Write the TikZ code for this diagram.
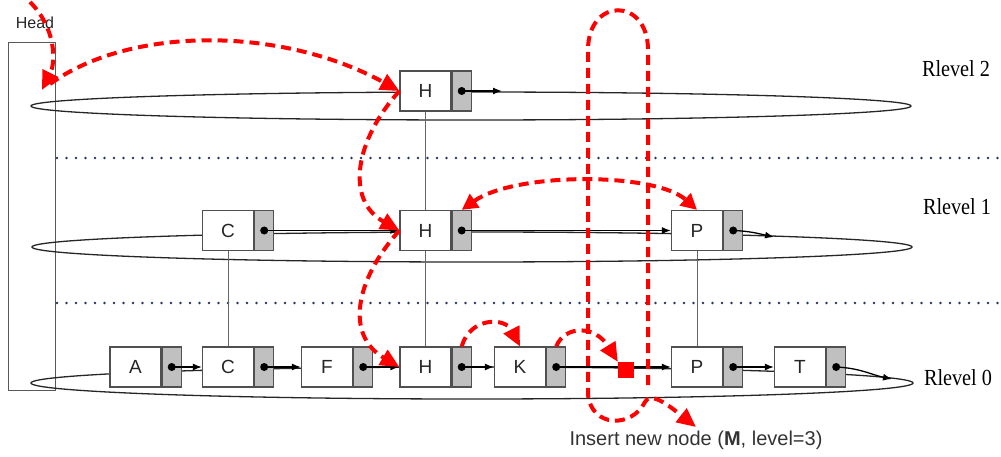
\documentclass[tikz,border=0pt]{standalone}
\usepackage{fontspec}
\usepackage{graphicx}
\setmainfont{Liberation Sans}
\newfontfamily\rlfont{Liberation Serif}
\usetikzlibrary{arrows.meta}
\definecolor{boxgray}{RGB}{192,192,192}
\definecolor{edgegray}{RGB}{80,80,80}
\definecolor{dotblue}{RGB}{35,55,95}
\definecolor{rd}{RGB}{255,0,0}
\begin{document}
\begin{tikzpicture}[x=1pt,y=-1pt,
  tbox/.style={draw=edgegray, line width=1.2pt, fill=white, minimum width=51pt, minimum height=40pt, inner sep=0pt, font=\fontsize{19}{19}\selectfont, text=black!85},
  gbox/.style={draw=edgegray, line width=1.2pt, fill=boxgray, minimum width=19pt, minimum height=40pt, inner sep=0pt, anchor=west},
  dotn/.style={circle, fill=black, minimum size=8pt, inner sep=0pt},
  lnk/.style={-{Latex[length=9pt,width=7pt]}, line width=1.3pt, black},
  ring/.style={line width=1.3pt, black!85},
  vline/.style={line width=1pt, black!60},
  rdash/.style={rd, line width=4pt, dash pattern=on 10pt off 6pt},
  rtip/.style={-{Triangle[length=19pt,width=17pt]}},
  rtwo/.style={{Triangle[length=16pt,width=16pt]}-{Triangle[length=16pt,width=16pt]}},
  sepline/.style={dotblue, line width=2.6pt, line cap=round, dash pattern=on 0pt off 9.5pt},
  lvl/.style={font=\rlfont\fontsize{23}{23}\selectfont},
]
\useasboundingbox (0,0) rectangle (1001,457);

% head box
\node[draw=black!65, line width=0.9pt, minimum width=47pt, minimum height=348pt, inner sep=0pt] (headbox) at (31.5,216) {};
\node[font=\fontsize{16}{16}\selectfont, text=black!85] (headlbl) at (35,23) {Head};

% level rings
\draw[ring] (471,106) ellipse [x radius=440pt, y radius=14pt];
\draw[ring] (472,247) ellipse [x radius=440pt, y radius=15pt];
\draw[ring] (472,383) ellipse [x radius=441pt, y radius=16pt];

% separators
\coordinate (s1a) at (57,158); \coordinate (s1b) at (1001,158);
\coordinate (s2a) at (57,303); \coordinate (s2b) at (1001,303);
\draw[sepline] (s1a) -- (s1b);
\draw[sepline] (s2a) -- (s2b);

% level 2
\node[tbox] (h2) at (425.5,91) {H};
\node[gbox] (h2g) at (h2.east) {};
\node[dotn] (h2d) at (h2g.center) {};

% level 1
\node[tbox] (c1) at (228,230.5) {C};
\node[gbox] (c1g) at (c1.east) {};
\node[dotn] (c1d) at (c1g.center) {};
\node[tbox] (h1) at (425.5,230.5) {H};
\node[gbox] (h1g) at (h1.east) {};
\node[dotn] (h1d) at (h1g.center) {};
\node[tbox] (p1) at (697,230.5) {P};
\node[gbox] (p1g) at (p1.east) {};
\node[dotn] (p1d) at (p1g.center) {};

% level 0
\node[tbox] (a0) at (135.5,367) {A};
\node[gbox] (a0g) at (a0.east) {};
\node[dotn] (a0d) at (a0g.center) {};
\node[tbox] (c0) at (228,367) {C};
\node[gbox] (c0g) at (c0.east) {};
\node[dotn] (c0d) at (c0g.center) {};
\node[tbox] (f0) at (327,367) {F};
\node[gbox] (f0g) at (f0.east) {};
\node[dotn] (f0d) at (f0g.center) {};
\node[tbox] (h0) at (425.5,367) {H};
\node[gbox] (h0g) at (h0.east) {};
\node[dotn] (h0d) at (h0g.center) {};
\node[tbox] (k0) at (520,367) {K};
\node[gbox] (k0g) at (k0.east) {};
\node[dotn] (k0d) at (k0g.center) {};
\node[tbox] (p0) at (697,367) {P};
\node[gbox] (p0g) at (p0.east) {};
\node[dotn] (p0d) at (p0g.center) {};
\node[tbox] (t0) at (800,367) {T};
\node[gbox] (t0g) at (t0.east) {};
\node[dotn] (t0d) at (t0g.center) {};

% vertical links
\draw[vline] (h2.south) -- (h1.north);
\draw[vline] (h1.south) -- (h0.north);
\draw[vline] (c1.south) -- (c0.north);
\draw[vline] (p1.south) -- (p0.north);

% forward pointers
\coordinate (h2end) at (502,91);
\coordinate (p1end) at (774,237);
\coordinate (t0end) at (892,379);
\draw[lnk] (h2d.center) -- (h2end);
\draw[lnk] (c1d.center) -- (h1.west);
\draw[lnk] (h1d.center) -- (p1.west);
\draw[lnk] (p1d.center) .. controls (750,231) and (760,234) .. (p1end);
\draw[lnk] (a0d.center) -- (c0.west);
\draw[lnk] (c0d.center) -- (f0.west);
\draw[lnk] (f0d.center) -- (h0.west);
\draw[lnk] (h0d.center) -- (k0.west);
\draw[lnk] (k0d.center) -- (p0.west);
\draw[lnk] (p0d.center) -- (t0.west);
\draw[lnk] (t0d.center) .. controls (860,368) and (872,375) .. (t0end);

% new node marker
\node[fill=rd, minimum size=16pt, inner sep=0pt] (sq) at (626,370) {};

% red search path
\coordinate (hs) at (30,2);
\coordinate (ha) at (42,90);
\coordinate (hb) at (50,84);
\draw[rdash, rtip] (hs) .. controls (56,28) and (56,62) .. (ha);
\draw[rdash, rtip] (hb) .. controls (130,26) and (281,26) .. (h2.west);
\draw[rdash, rtip] (h2.west) .. controls (355,140) and (345,200) .. (h1.west);
\draw[rdash, rtip] (h1.west) .. controls (355,280) and (345,335) .. (h0.west);
\draw[rdash, rtwo] (h1g.north) .. controls (515,172) and (655,172) .. (p1.north);
\draw[rdash, rtip] (h0g.north) .. controls (470,317) and (505,317) .. (k0.north);
\draw[rdash, rtip] (k0g.north) .. controls (565,325) and (595,325) .. (sq.north west);

% insertion loop
\coordinate (lp) at (648,385);
\coordinate (lq) at (696,427);
\draw[rdash, rtip] (lp) -- (648,50) .. controls (648,-3) and (588,-3) .. (588,50) -- (588,395)
  .. controls (592,428) and (632,428) .. (645,402) .. controls (650,393) and (662,400) .. (lq);

% labels
\node[lvl] (l2) at (956,69) {\scalebox{0.88}[1]{Rlevel 2}};
\node[lvl] (l1) at (957,207) {\scalebox{0.88}[1]{Rlevel 1}};
\node[lvl] (l0) at (958,378) {\scalebox{0.88}[1]{Rlevel 0}};
\node[font=\fontsize{20}{20}\selectfont, text=black!80] (ins) at (696,440) {Insert new node (\textbf{M}, level=3)};
\end{tikzpicture}
\end{document}
